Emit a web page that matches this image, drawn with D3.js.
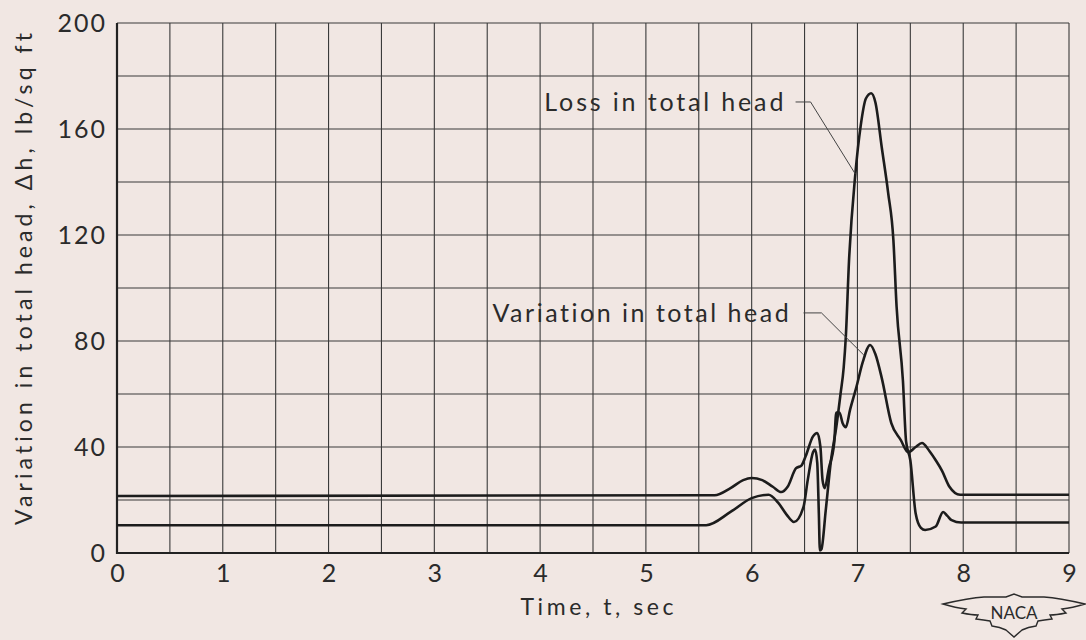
<!DOCTYPE html>
<html>
<head>
<meta charset="utf-8">
<script src="https://cdn.jsdelivr.net/npm/d3@7"></script>
<style>
  body { margin: 0; background: #f1e7e3; }
  svg { display: block; }
  text { font-family: Lato, "DejaVu Sans", sans-serif; fill: #2b2b2b; font-variant-ligatures: none; }
</style>
</head>
<body>
<div id="chart"></div>
<script>
const width = 1086, height = 640,
    margin = ({ top: 23, right: 15, bottom: 87, left: 117 }); // plot box

// time (sec) and head values (lb/sq ft)
const variationT = [0, 5.65, 5.8, 5.92, 6.0, 6.1, 6.2, 6.28, 6.34, 6.42, 6.47, 6.51, 6.58, 6.62, 6.65, 6.67, 6.69, 6.73, 6.78, 6.8, 6.83, 6.86, 6.89, 6.93, 6.99, 7.05, 7.12, 7.17, 7.23, 7.32, 7.41, 7.48, 7.55, 7.61, 7.68, 7.74, 7.8, 7.87, 7.97, 9];
const variationV = [21.5, 21.8, 24.5, 27.5, 28.3, 27.5, 25, 23, 25, 32, 33, 36.5, 44, 45.3, 40, 27.5, 24.5, 32, 41.5, 53, 53, 49, 47.5, 54, 62.6, 72, 78.5, 75, 66, 49, 42.6, 38, 40, 41.5, 38.5, 35, 31, 25, 22, 22];

const lossT = [0, 5.57, 5.8, 6.0, 6.16, 6.25, 6.33, 6.4, 6.49, 6.53, 6.58, 6.6, 6.62, 6.635, 6.645, 6.66, 6.7, 6.75, 6.8, 6.84, 6.87, 6.89, 6.92, 6.98, 7.03, 7.08, 7.13, 7.17, 7.23, 7.29, 7.34, 7.37, 7.43, 7.46, 7.5, 7.55, 7.6, 7.64, 7.74, 7.81, 7.85, 7.89, 7.98, 9];
const lossV = [10.5, 10.5, 15.5, 20.7, 22, 19, 14.5, 11.7, 17.4, 27.5, 38, 39, 34, 15, 1, 1.5, 16, 35, 47.5, 60, 70, 81.5, 110, 143, 161, 171.5, 173.5, 170, 153, 136, 118, 93, 65, 42, 35, 15, 9.5, 8.7, 10, 15.5, 14, 12.4, 11.5, 11.5];

const xTicks = [0, 1, 2, 3, 4, 5, 6, 7, 8, 9];
const yTicks = [0, 40, 80, 120, 160, 200];

// labels: text start/end, leader elbow, leader end (data units)
const labels = [
  { text: "Loss in total head", t0: 4.04, t: 6.30, v: 170.2, t1: 6.415, t2: 6.557, pt: 6.98, pv: 143 },
  { text: "Variation in total head", t0: 3.55, t: 6.35, v: 90.6, t1: 6.49, t2: 6.66, pt: 7.06, pv: 74.7 }
];

const svg = d3.select("#chart")
    .append("svg")
    .attr("width", width)
    .attr("height", height);

let x = d3.scaleLinear()
    .domain([0, 9])
    .range([margin.left, width - margin.right - 2]);

let y = d3.scaleLinear()
    .domain([0, 200])
    .range([height - margin.bottom, margin.top]);

// square grid every 0.5 sec and every 20 lb/sq ft
svg.append("g")
  .selectAll("line")
  .data(d3.range(1, 19).map(i => i * 0.5))
  .join("line")
    .attr("x1", d => x(d)).attr("x2", d => x(d))
    .attr("y1", y(0)).attr("y2", y(200))
    .attr("stroke", "#3a3a3a")
    .attr("stroke-width", 1.1);

svg.append("g")
  .selectAll("line")
  .data(d3.range(1, 11).map(i => i * 20))
  .join("line")
    .attr("x1", x(0)).attr("x2", x(9))
    .attr("y1", d => y(d)).attr("y2", d => y(d))
    .attr("stroke", "#3a3a3a")
    .attr("stroke-width", 1.1);

// heavier left and bottom edges
svg.append("line")
    .attr("x1", x(0)).attr("x2", x(0))
    .attr("y1", y(200)).attr("y2", y(0) + 1)
    .attr("stroke", "#222").attr("stroke-width", 2.2);
svg.append("line")
    .attr("x1", x(0)).attr("x2", x(9))
    .attr("y1", y(0)).attr("y2", y(0))
    .attr("stroke", "#222").attr("stroke-width", 2.2);

// axes (labels only)
svg.append("g")
    .attr("transform", `translate(0,${y(0)})`)
    .call(d3.axisBottom(x).tickValues(xTicks).tickSize(0).tickPadding(11).tickFormat(d3.format("d")))
    .call(g => g.select(".domain").remove())
    .selectAll("text")
      .style("font-size", "25px")
      .attr("fill", "#2b2b2b");

svg.append("g")
    .attr("transform", `translate(${x(0)},0)`)
    .call(d3.axisLeft(y).tickValues(yTicks).tickSize(0).tickPadding(10))
    .call(g => g.select(".domain").remove())
    .selectAll("text")
      .style("font-size", "25px")
      .style("letter-spacing", "2px")
      .attr("fill", "#2b2b2b");

svg.selectAll(".tick text").style("font-family", "Lato, 'DejaVu Sans', sans-serif");

// axis titles
svg.append("text")
    .attr("text-anchor", "middle")
    .attr("x", 597)
    .attr("y", 615)
    .attr("textLength", 153)
    .style("font-size", "23px")
    .text("Time, t, sec");

svg.append("text")
    .attr("text-anchor", "middle")
    .attr("transform", "translate(32,279) rotate(-90)")
    .attr("textLength", 492)
    .style("font-size", "23px")
    .text("Variation in total head, \u0394h, lb/sq ft");

// curves
let line = d3.line()
    .x(d => x(d[0]))
    .y(d => y(d[1]))
    .curve(d3.curveMonotoneX);

const series = [d3.zip(variationT, variationV), d3.zip(lossT, lossV)];

svg.append("g")
  .selectAll("path")
  .data(series)
  .join("path")
    .attr("d", line)
    .attr("fill", "none")
    .attr("stroke", "#1c1c1c")
    .attr("stroke-width", 2.6)
    .attr("stroke-linejoin", "round");

// curve labels and leaders
svg.append("g")
  .selectAll("text")
  .data(labels)
  .join("text")
    .attr("x", d => x(d.t0))
    .attr("y", d => y(d.v))
    .attr("dy", "0.36em")
    .attr("textLength", d => x(d.t) - x(d.t0))
    .attr("lengthAdjust", "spacing")
    .style("font-size", "25px")
    .text(d => d.text);

svg.append("g")
  .selectAll("path")
  .data(labels)
  .join("path")
    .attr("d", d => d3.line()([[x(d.t1), y(d.v)], [x(d.t2), y(d.v)], [x(d.pt), y(d.pv)]]))
    .attr("fill", "none")
    .attr("stroke", "#444")
    .attr("stroke-width", 1);

// NACA wing emblem
const emblem = svg.append("g").attr("transform", "translate(1014,618)");
emblem.append("path")
    .attr("d", "M-71,-14 Q-45,-20 -30,-21 L-8,-21 L0,-24 L8,-21 L30,-21 Q45,-20 71,-14 " +
               "Q58,-10 48,-9 L52,-5 Q42,-3 36,-3 L38,1 Q30,2 24,3 L22,8 Q14,9 8,12 L0,19 " +
               "L-8,12 Q-14,9 -22,8 L-24,3 Q-30,2 -38,1 L-36,-3 Q-42,-3 -52,-5 L-48,-9 Q-58,-10 -71,-14 Z")
    .attr("fill", "none")
    .attr("stroke", "#2b2b2b")
    .attr("stroke-width", 1.4);
emblem.append("text")
    .attr("text-anchor", "middle")
    .attr("y", -5)
    .attr("dy", "0.35em")
    .style("font-size", "17px")
    .text("NACA");
</script>
</body>
</html>
